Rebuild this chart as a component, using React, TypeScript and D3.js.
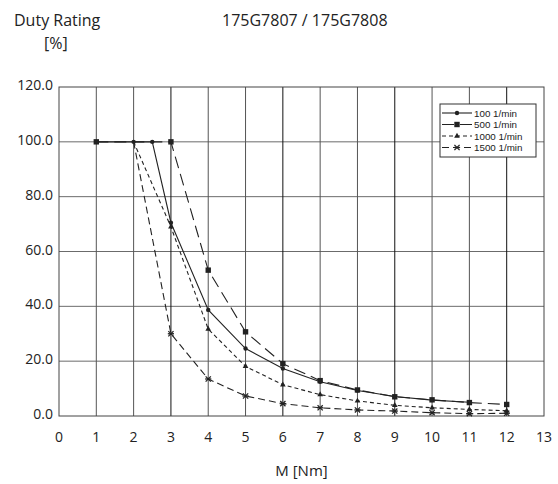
import React from "react";
import * as d3 from "d3";

const xTicks = [0, 1, 2, 3, 4, 5, 6, 7, 8, 9, 10, 11, 12, 13];
const yTicks = [0, 20, 40, 60, 80, 100, 120];

const x100 = [1, 2, 2.5, 3, 4, 5, 6, 7, 8, 9, 10, 11];
const v100 = [100, 100, 100, 70.5, 38.7, 24.6, 17.3, 12.5, 9.3, 7.1, 5.8, 5.0];
const x500 = [1, 3, 4, 5, 6, 7, 8, 9, 10, 11, 12];
const v500 = [100, 100, 53.2, 30.7, 19.1, 12.9, 9.5, 7.0, 5.9, 4.9, 4.2];
const x1000 = [2, 3, 4, 5, 6, 7, 8, 9, 10, 11, 12];
const v1000 = [100, 69, 31.7, 18.1, 11.4, 7.8, 5.5, 3.9, 3.0, 2.4, 1.9];
const x1500 = [2, 3, 4, 5, 6, 7, 8, 9, 10, 11, 12];
const v1500 = [100, 30, 13.5, 7.3, 4.5, 3.0, 2.2, 1.8, 1.2, 0.85, 1.0];

const seriesNames = ["100 1/min", "500 1/min", "1000 1/min", "1500 1/min"];

const W = 558, H = 484;
const L = 59, R = 544, T = 87, B = 416;
const FONT = "'Open Sans', sans-serif";
const INK = "#222";

type S = { name: string; xs: number[]; vs: number[]; dash: string; marker: string; skipFirst: boolean };

const series: S[] = [
  { name: seriesNames[3], xs: x1500, vs: v1500, dash: "7,4", marker: "star", skipFirst: true },
  { name: seriesNames[2], xs: x1000, vs: v1000, dash: "4,3", marker: "tri", skipFirst: true },
  { name: seriesNames[1], xs: x500, vs: v500, dash: "12,6", marker: "sq", skipFirst: false },
  { name: seriesNames[0], xs: x100, vs: v100, dash: "", marker: "dot", skipFirst: false },
];

function Marker({ kind, cx, cy }: { kind: string; cx: number; cy: number }) {
  if (kind === "dot") return <circle cx={cx} cy={cy} r={2.2} fill={INK} />;
  if (kind === "sq") return <rect x={cx - 2.7} y={cy - 2.7} width={5.4} height={5.4} fill={INK} />;
  if (kind === "tri") {
    const p = d3.symbol().type(d3.symbolTriangle).size(14)();
    return <path d={p || ""} transform={`translate(${cx},${cy})`} fill={INK} />;
  }
  const s = 2.6;
  return (
    <g stroke={INK} strokeWidth={1.3}>
      <line x1={cx - s} y1={cy - s} x2={cx + s} y2={cy + s} />
      <line x1={cx - s} y1={cy + s} x2={cx + s} y2={cy - s} />
      <line x1={cx - s - 0.5} y1={cy} x2={cx + s + 0.5} y2={cy} />
    </g>
  );
}

export default function App() {
  const x = d3.scaleLinear().domain([0, 13]).range([L, R]);
  const y = d3.scaleLinear().domain([0, 120]).range([B, T]);
  const line = d3.line<[number, number]>().x((d) => x(d[0])).y((d) => y(d[1]));

  const legX = 440, legY = 104, legW = 96, legH = 53;
  const rowY = [113, 124.5, 136, 147.5];
  const legendOrder = [3, 2, 1, 0];

  return (
    <svg width={W} height={H} style={{ position: "absolute", left: 0, top: 0, background: "#fff" }} fontFamily={FONT}>
      <rect x={0} y={0} width={W} height={H} fill="#fff" />
      <text x={14} y={26} fontSize={16} fill={INK}>Duty Rating</text>
      <text x={44} y={49} fontSize={16} fill={INK}>[%]</text>
      <text x={222} y={26} fontSize={16} fill={INK}>175G7807 / 175G7808</text>

      {/* grid */}
      {yTicks.slice(1, -1).map((t) => (
        <line key={"h" + t} x1={L} x2={R} y1={y(t)} y2={y(t)} stroke="#6b6b6b" strokeWidth={1} />
      ))}
      {xTicks.slice(1, -1).map((t) => (
        <line key={"v" + t} x1={x(t)} x2={x(t)} y1={T} y2={B} stroke={t % 3 === 0 ? "#111" : "#555"} strokeWidth={1} />
      ))}
      <rect x={L} y={T} width={R - L} height={B - T} fill="none" stroke="#444" strokeWidth={1} />

      {/* tick labels */}
      {yTicks.map((t) => (
        <text key={"yl" + t} x={53} y={y(t) + 3} textAnchor="end" fontSize={14} fill={INK}>
          {t.toFixed(1)}
        </text>
      ))}
      {xTicks.map((t) => (
        <text key={"xl" + t} x={x(t)} y={442} textAnchor="middle" fontSize={14} fill={INK}>
          {t}
        </text>
      ))}
      <text x={(L + R) / 2} y={476} textAnchor="middle" fontSize={15} fill={INK}>M [Nm]</text>

      {/* series */}
      {series.map((s) => {
        const pts: [number, number][] = s.xs.map((v, i) => [v, s.vs[i]]);
        return (
          <g key={s.name}>
            <path d={line(pts) || ""} fill="none" stroke={INK} strokeWidth={1.1} strokeDasharray={s.dash} />
            {pts.map((p, i) =>
              s.skipFirst && i === 0 ? null : <Marker key={i} kind={s.marker} cx={x(p[0])} cy={y(p[1])} />
            )}
          </g>
        );
      })}

      {/* legend */}
      <rect x={legX} y={legY} width={legW} height={legH} fill="#fff" stroke="#333" strokeWidth={1} />
      {legendOrder.map((si, i) => {
        const s = series[si];
        const ry = rowY[i];
        return (
          <g key={"lg" + i}>
            <line x1={legX + 2} x2={legX + 32} y1={ry} y2={ry} stroke={INK} strokeWidth={1.1} strokeDasharray={s.dash} />
            <Marker kind={s.marker} cx={legX + 17} cy={ry} />
            <text x={legX + 34} y={ry + 3.5} fontSize={9.8} fontFamily="'Liberation Sans', sans-serif" fill={INK}>{s.name}</text>
          </g>
        );
      })}
    </svg>
  );
}
